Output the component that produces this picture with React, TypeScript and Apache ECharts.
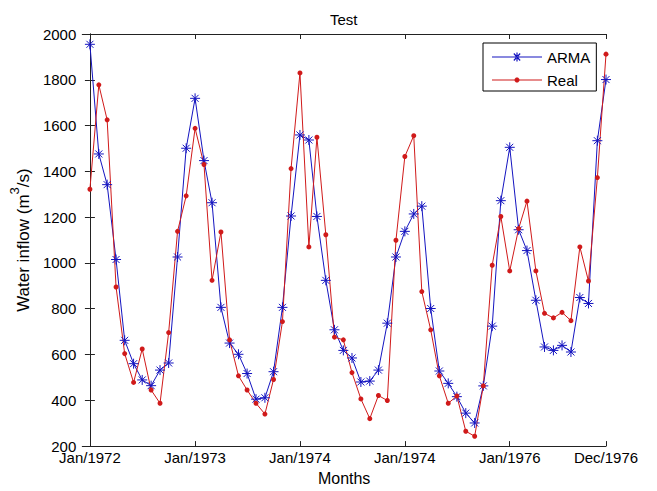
import React, { useEffect, useRef } from 'react';
import * as echarts from 'echarts';

// Monthly series, Jan 1972 .. Dec 1976 (60 months)
const START_YEAR = 1972;
const MONTH_COUNT = 60;

const armaValues = [
  1955, 1476, 1342, 1015, 662, 560, 489, 464, 532, 563, 1026, 1501,
  1719, 1447, 1263, 806, 650, 601, 517, 405, 411, 525, 806, 1205,
  1559, 1537, 1203, 924, 708, 618, 585, 480, 484, 532, 737, 1026,
  1138, 1214, 1248, 801, 528, 474, 416, 344, 301, 463, 724, 1272,
  1505, 1145, 1054, 837, 633, 618, 640, 611, 849, 823, 1534, 1801,
];

const realValues = [
  1322, 1778, 1625, 895, 604, 478, 624, 445, 387, 696, 1138, 1293,
  1588, 1430, 924, 1135, 664, 507, 445, 387, 340, 491, 744, 1412,
  1830, 1070, 1549, 1123, 676, 664, 521, 406, 320, 421, 399, 1099,
  1465, 1556, 875, 708, 507, 387, 419, 265, 243, 463, 990, 1203,
  965, 1150, 1270, 965, 780, 760, 784, 748, 1070, 921, 1373, 1912,
];

const tickMonthIndex = [0, 12, 24, 36, 48, 59];
const tickLabels = ['Jan/1972', 'Jan/1973', 'Jan/1974', 'Jan/1974', 'Jan/1976', 'Dec/1976'];

const yTicks = [200, 400, 600, 800, 1000, 1200, 1400, 1600, 1800, 2000];

const DAY_MS = 86400000;
const dayOfMonth = (i: number) =>
  (Date.UTC(START_YEAR, i, 1) - Date.UTC(START_YEAR, 0, 1)) / DAY_MS;

const FONT = '"Liberation Sans", Arial, Helvetica, sans-serif';
const BLUE = '#1414c0';
const RED = '#d01a1a';
const AXIS = '#222';
const STAR = 'path://M0,5L10,5M5,0L5,10M1.5,1.5L8.5,8.5M1.5,8.5L8.5,1.5';

// legend icons drawn in a 50x12 box (tiny corner marks fix the box)
const CORNERS = 'M0,0L0.02,0L0,0.02Z M50,12L49.98,12L50,11.98Z ';
const LINE_BAR = 'M0,5.5L50,5.5L50,6.5L0,6.5Z ';
const ARMA_ICON =
  'path://' +
  CORNERS +
  LINE_BAR +
  'M20.5,5.4L29.5,5.4L29.5,6.6L20.5,6.6Z ' +
  'M24.4,1.5L25.6,1.5L25.6,10.5L24.4,10.5Z ' +
  'M21.4,2.9L22.3,2.1L28.6,9.1L27.7,9.9Z ' +
  'M21.4,9.1L22.3,9.9L28.6,2.9L27.7,2.1Z';
const REAL_ICON =
  'path://' +
  CORNERS +
  LINE_BAR +
  'M24,3.6L26,3.6L27.4,5L27.4,7L26,8.4L24,8.4L22.6,7L22.6,5Z';

export default function App() {
  const ref = useRef<HTMLDivElement>(null);

  useEffect(() => {
    if (!ref.current) return;
    const chart = echarts.init(ref.current, undefined, { renderer: 'svg' });

    const tickDays = tickMonthIndex.map(dayOfMonth);
    const labelOf = (v: number) => {
      const k = tickDays.findIndex((d) => Math.abs(d - v) < 0.5);
      return k >= 0 ? tickLabels[k] : '';
    };
    const xMin = -26.6;
    const xMax = dayOfMonth(MONTH_COUNT - 1);

    const months = Array.from({ length: MONTH_COUNT }, (_, i) => dayOfMonth(i));

    chart.setOption({
      animation: false,
      backgroundColor: '#fff',
      title: {
        text: 'Test',
        left: 325,
        top: 7,
        textStyle: { fontFamily: FONT, fontSize: 15, fontWeight: 'normal', color: '#000' },
      },
      legend: {
        data: [
          { name: 'ARMA', icon: ARMA_ICON, itemStyle: { color: BLUE, borderWidth: 0 } },
          { name: 'Real', icon: REAL_ICON, itemStyle: { color: RED, borderWidth: 0 } },
        ],
        orient: 'vertical',
        left: 483,
        top: 43,
        padding: [6, 6, 3, 9],
        itemWidth: 50,
        itemHeight: 12,
        itemGap: 7,
        backgroundColor: '#fff',
        borderColor: '#000',
        borderWidth: 1,
        borderRadius: 0,
        textStyle: { fontFamily: FONT, fontSize: 15, lineHeight: 16, color: '#000' },
      },
      grid: { left: 78, right: 51, top: 34, bottom: 41, show: false },
      xAxis: [
        {
          type: 'value',
          min: xMin,
          max: xMax,
          position: 'bottom',
          axisLine: { show: true, lineStyle: { color: AXIS, width: 1 } },
          axisTick: { show: true, inside: true, length: 5, customValues: tickDays, lineStyle: { color: AXIS } },
          axisLabel: {
            show: true,
            customValues: tickDays,
            formatter: (v: number) => labelOf(v),
            margin: 5,
            lineHeight: 13,
            color: '#000',
            fontFamily: FONT,
            fontSize: 15,
          },
          splitLine: { show: false },
          name: 'Months',
          nameLocation: 'middle',
          nameGap: 23,
          nameTextStyle: { fontFamily: FONT, fontSize: 16, color: '#000' },
        },
        {
          type: 'value',
          min: xMin,
          max: xMax,
          position: 'top',
          axisLine: { show: true, lineStyle: { color: AXIS, width: 1 } },
          axisTick: { show: true, inside: true, length: 5, customValues: tickDays, lineStyle: { color: AXIS } },
          axisLabel: { show: false },
          splitLine: { show: false },
        },
      ],
      yAxis: [
        {
          type: 'value',
          min: 200,
          max: 2000,
          interval: 200,
          position: 'left',
          axisLine: { show: true, lineStyle: { color: AXIS, width: 1 } },
          axisTick: { show: true, inside: true, length: 5, lineStyle: { color: AXIS } },
          axisLabel: {
            margin: 6,
            lineHeight: 11,
            color: '#000',
            fontFamily: FONT,
            fontSize: 15,
            formatter: (v: number) => (yTicks.includes(v) ? String(v) : ''),
          },
          splitLine: { show: false },
          name: '{a|Water inflow (m}{b|3}{a|/s)}',
          nameLocation: 'middle',
          nameGap: 38,
          nameRotate: 90,
          nameTextStyle: {
            rich: {
              a: { fontFamily: FONT, fontSize: 17, color: '#000', verticalAlign: 'bottom', lineHeight: 24 },
              b: { fontFamily: FONT, fontSize: 13, color: '#000', verticalAlign: 'top', lineHeight: 24 },
            },
          },
        },
        {
          type: 'value',
          min: 200,
          max: 2000,
          interval: 200,
          position: 'right',
          axisLine: { show: true, lineStyle: { color: AXIS, width: 1 } },
          axisTick: { show: true, inside: true, length: 5, lineStyle: { color: AXIS } },
          axisLabel: { show: false },
          splitLine: { show: false },
        },
      ],
      series: [
        {
          name: 'ARMA',
          type: 'line',
          xAxisIndex: 0,
          yAxisIndex: 0,
          data: armaValues.map((v, i) => [months[i], v]),
          symbol: STAR,
          symbolSize: 10,
          showAllSymbol: true,
          lineStyle: { color: BLUE, width: 1 },
          itemStyle: { color: BLUE, borderColor: BLUE, borderWidth: 1 },
          emphasis: { disabled: true },
        },
        {
          name: 'Real',
          type: 'line',
          xAxisIndex: 0,
          yAxisIndex: 0,
          data: realValues.map((v, i) => [months[i], v]),
          symbol: 'circle',
          symbolSize: 5,
          showAllSymbol: true,
          lineStyle: { color: RED, width: 1 },
          itemStyle: { color: RED, borderWidth: 0 },
          emphasis: { disabled: true },
        },
      ],
    });

    return () => chart.dispose();
  }, []);

  return (
    <div
      ref={ref}
      style={{ position: 'fixed', left: 0, top: 0, width: 657, height: 491, background: '#fff' }}
    />
  );
}
